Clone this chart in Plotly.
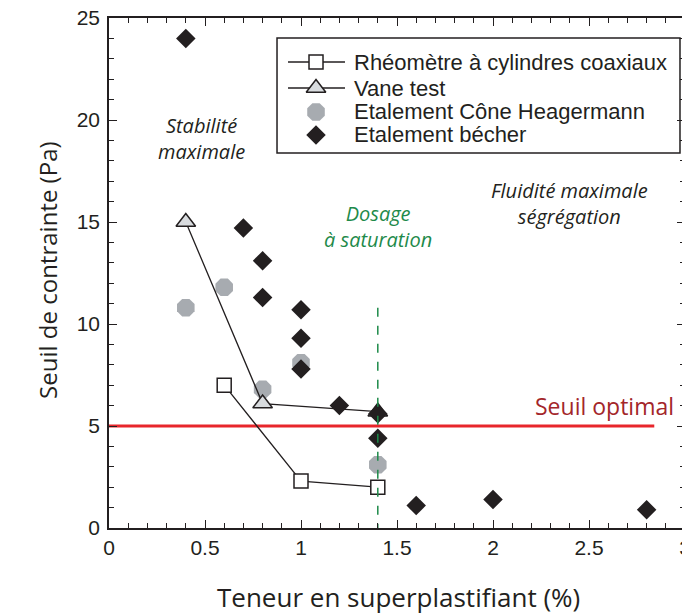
import plotly.graph_objects as go

# Data
rheo_x = [0.6, 1.0, 1.4]
rheo_y = [7.0, 2.3, 2.0]
vane_x = [0.4, 0.8, 1.4]
vane_y = [15.0, 6.1, 5.7]
cone_x = [0.4, 0.6, 0.8, 1.0, 1.4]
cone_y = [10.8, 11.8, 6.8, 8.1, 3.1]
becher_x = [0.4, 0.7, 0.8, 0.8, 1.0, 1.0, 1.0, 1.2, 1.4, 1.4, 1.6, 2.0, 2.8]
becher_y = [24.0, 14.7, 13.1, 11.3, 10.7, 9.3, 7.8, 6.0, 5.6, 4.4, 1.1, 1.4, 0.9]
seuil_x = [0, 2.84]
seuil_y = [5, 5]
sat_x = [1.4, 1.4]
sat_y = [10.8, -0.6]
x_ticks = [0, 0.5, 1, 1.5, 2, 2.5, 3]
x_ticktext = ["0", "0.5", "1", "1.5", "2", "2.5", "3"]
y_ticks = [0, 5, 10, 15, 20, 25]
legend_labels = ["Rhéomètre à cylindres coaxiaux", "Vane test",
                 "Etalement Cône Heagermann", "Etalement bécher"]
x_title = "Teneur en superplastifiant (%)"
y_title = "Seuil de contrainte (Pa)"

INK = "#231f20"
GREY_C = "#a7abb0"
GREY_T = "#d9dcdf"

sq_marker = dict(symbol="square", size=14, color="white", line=dict(color=INK, width=1.5))
tri_marker = dict(symbol="triangle-up", size=17, color=GREY_T, line=dict(color=INK, width=1.5))
oct_marker = dict(symbol="octagon", size=19, color=GREY_C, line=dict(width=0))
dia_marker = dict(symbol="diamond", size=15, color=INK, line=dict(width=0))

fig = go.Figure()

fig.add_trace(go.Scatter(x=seuil_x, y=seuil_y, mode="lines",
                         line=dict(color="#e8262b", width=3), showlegend=False, hoverinfo="skip"))
fig.add_trace(go.Scatter(x=cone_x, y=cone_y, mode="markers", name=legend_labels[2],
                         marker=oct_marker, showlegend=False))
fig.add_trace(go.Scatter(x=rheo_x, y=rheo_y, mode="lines+markers", name=legend_labels[0],
                         line=dict(color=INK, width=1.3), marker=sq_marker, showlegend=False))
fig.add_trace(go.Scatter(x=vane_x, y=vane_y, mode="lines+markers", name=legend_labels[1],
                         line=dict(color=INK, width=1.3), marker=tri_marker, showlegend=False))
fig.add_trace(go.Scatter(x=becher_x, y=becher_y, mode="markers", name=legend_labels[3],
                         marker=dia_marker, showlegend=False))
fig.add_trace(go.Scatter(x=sat_x, y=sat_y, mode="lines",
                         line=dict(color="#1e8a4a", width=1.5, dash="dash"), showlegend=False,
                         hoverinfo="skip", cliponaxis=False))
# invisible trace to activate mirrored top/right axes
fig.add_trace(go.Scatter(x=[0], y=[0], xaxis="x2", yaxis="y2", mode="markers",
                         marker=dict(opacity=0), showlegend=False, hoverinfo="skip"))

# ---- hand-made legend (in a hidden 0..1 overlay axis) ----
LX0, LX1, LY0, LY1 = 0.2917, 0.9913, 0.7353, 0.9608
rows = [0.9137, 0.8627, 0.8157, 0.7706]
sym_l, sym_c, sym_r, txt_x = 0.3108, 0.3594, 0.4097, 0.4219
for r in rows[:2]:
    fig.add_trace(go.Scatter(x=[sym_l, sym_r], y=[r, r], xaxis="x3", yaxis="y3", mode="lines",
                             line=dict(color=INK, width=1.3), showlegend=False, hoverinfo="skip"))
for r, m in zip(rows, [sq_marker, tri_marker, oct_marker, dia_marker]):
    fig.add_trace(go.Scatter(x=[sym_c], y=[r], xaxis="x3", yaxis="y3", mode="markers",
                             marker=m, showlegend=False, hoverinfo="skip"))

it_font = "Open Sans, DejaVu Sans"
ann_font = dict(family=it_font, size=20, color=INK)
annotations = [
    dict(x=0.48, y=19.1, text="<i>Stabilité<br>maximale</i>", showarrow=False,
         font=ann_font, align="center"),
    dict(x=2.4, y=15.9, text="<i>Fluidité maximale<br>ségrégation</i>", showarrow=False,
         font=ann_font, align="center"),
    dict(x=1.4, y=14.8, text="<i>Dosage<br>à saturation</i>", showarrow=False,
         font=dict(family=it_font, size=20, color="#1e8a4a"), align="center"),
    dict(x=2.953, y=5.1, text="Seuil optimal", showarrow=False, xanchor="right", yanchor="bottom",
         font=dict(family=it_font, size=23, color="#a3262a")),
    dict(xref="paper", yref="paper", x=0.503, y=-0.135, text=x_title, showarrow=False,
         xanchor="center", yanchor="middle",
         font=dict(family=it_font, size=26, color=INK)),
    dict(xref="paper", yref="paper", x=-0.106, y=0.506, text=y_title, showarrow=False,
         xanchor="center", yanchor="middle", textangle=-90,
         font=dict(family=it_font, size=24, color=INK)),
]
for r, lab in zip(rows, legend_labels):
    annotations.append(dict(xref="paper", yref="paper", x=txt_x, y=r, text=lab, showarrow=False,
                            xanchor="left", yanchor="middle",
                            font=dict(family="Liberation Sans, Arial", size=22, color=INK)))

shapes = [dict(type="rect", xref="paper", yref="paper", x0=LX0, x1=LX1, y0=LY0, y1=LY1,
               line=dict(color=INK, width=1.5), fillcolor="white", layer="below")]

tickfont = dict(family="Liberation Sans, Arial", size=21, color=INK)
common = dict(showline=True, linecolor=INK, linewidth=1.5,
              ticks="inside", ticklen=8, tickwidth=1.2, tickcolor=INK,
              showgrid=False, zeroline=False, automargin=False, tickfont=tickfont,
              ticklabeloverflow="allow")

fig.update_layout(
    width=690, height=615,
    margin=dict(l=101, r=13, t=10, b=95),
    plot_bgcolor="white", paper_bgcolor="white",
    xaxis=dict(range=[0, 3], tickvals=x_ticks, ticktext=x_ticktext,
               minor=dict(dtick=0.1, ticks="inside", ticklen=5, tickcolor=INK),
               ticklabelstandoff=0, **common),
    yaxis=dict(range=[0, 25], tickvals=y_ticks,
               minor=dict(dtick=1, ticks="inside", ticklen=5, tickcolor=INK),
               ticklabelstandoff=3, **common),
    xaxis2=dict(range=[0, 3], overlaying="x", side="top", tickvals=x_ticks,
                showticklabels=False,
                minor=dict(dtick=0.1, ticks="inside", ticklen=5, tickcolor=INK), **common),
    yaxis2=dict(range=[0, 25], overlaying="y", side="right", tickvals=y_ticks,
                showticklabels=False,
                minor=dict(dtick=1, ticks="inside", ticklen=5, tickcolor=INK), **common),
    xaxis3=dict(range=[0, 1], overlaying="x", visible=False, fixedrange=True),
    yaxis3=dict(range=[0, 1], overlaying="y", visible=False, fixedrange=True),
    annotations=annotations,
    shapes=shapes,
    showlegend=False,
)

fig.write_html("out.html")
